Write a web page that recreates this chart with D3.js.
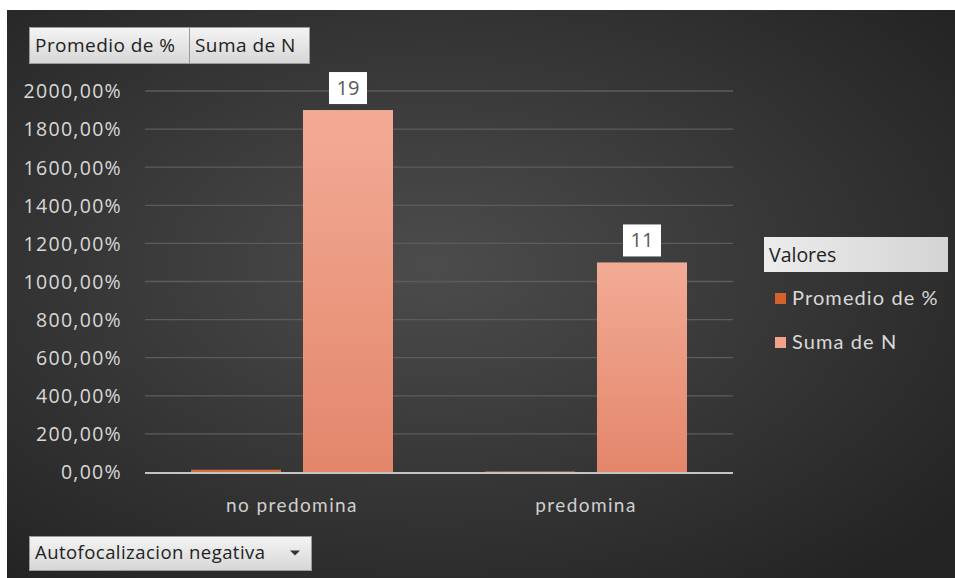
<!DOCTYPE html>
<html><head><meta charset="utf-8">
<script src="https://cdn.jsdelivr.net/npm/d3@7"></script>
<style>
html,body{margin:0;padding:0;background:#fff;}
svg{display:block;}
</style></head>
<body>
<svg id="chart" width="955" height="578"></svg>
<script>
const categories = ["no predomina", "predomina"];
const seriesNames = ["Promedio de %", "Suma de N"];
const promedio = [0.12, 0.03];
const sumaN = [19, 11];
const yTicks = [0, 2, 4, 6, 8, 10, 12, 14, 16, 18, 20];
const filterLabel = "Autofocalizacion negativa";
const legendTitle = "Valores";

const svg = d3.select("#chart");
const defs = svg.append("defs");

const bg = defs.append("radialGradient").attr("id","bg").attr("cx","45%").attr("cy","45%").attr("r","70%");
bg.append("stop").attr("offset","0%").attr("stop-color","#4c4c4c");
bg.append("stop").attr("offset","100%").attr("stop-color","#242424");

const btn = defs.append("linearGradient").attr("id","btn").attr("x1",0).attr("y1",0).attr("x2",0).attr("y2",1);
btn.append("stop").attr("offset","0%").attr("stop-color","#f4f4f4");
btn.append("stop").attr("offset","100%").attr("stop-color","#d6d6d6");

const barG = defs.append("linearGradient").attr("id","barS").attr("x1",0).attr("y1",0).attr("x2",0).attr("y2",1);
barG.append("stop").attr("offset","0%").attr("stop-color","#f3ab95");
barG.append("stop").attr("offset","100%").attr("stop-color","#e3866b");

const legG = defs.append("linearGradient").attr("id","leg").attr("x1",0).attr("y1",0).attr("x2",1).attr("y2",0);
legG.append("stop").attr("offset","0%").attr("stop-color","#ececec");
legG.append("stop").attr("offset","100%").attr("stop-color","#d4d4d4");

// background
svg.append("rect").attr("x",7).attr("y",10).attr("width",948).attr("height",568).attr("fill","url(#bg)");

const x0 = d3.scaleBand().domain(categories).range([145, 733]);
const x1 = d3.scaleBand().domain(seriesNames).range([46, 248]).paddingInner(0.196);
const y = d3.scaleLinear().domain([0, 20]).range([472, 91]);

const fmt = v => d3.format(".2f")(v * 100).replace(".", ",") + "%";

// gridlines
svg.append("g").selectAll("line").data(yTicks.filter(d => d > 0)).join("line")
  .attr("x1",145).attr("x2",733).attr("y1",d=>y(d)).attr("y2",d=>y(d))
  .attr("stroke","#5c5c5c").attr("stroke-width",1.3);

// y axis labels
const yAxis = d3.axisLeft(y).tickValues(yTicks).tickFormat(fmt).tickSize(0).tickPadding(0);
const ya = svg.append("g").attr("transform","translate(122,0)").call(yAxis);
ya.select(".domain").remove();
ya.selectAll("text").attr("fill","#d9d9d9").attr("font-family","'Open Sans', sans-serif")
  .attr("font-size","19.5px").attr("letter-spacing","1.3px").attr("dy","0.35em");

// bars
const data = categories.map((c,i)=>({cat:c, vals:[{s:seriesNames[0], v:promedio[i]},{s:seriesNames[1], v:sumaN[i]}]}));
const groups = svg.append("g").selectAll("g").data(data).join("g")
  .attr("transform", d => `translate(${x0(d.cat)},0)`);
groups.selectAll("rect").data(d=>d.vals).join("rect")
  .attr("x", d=>x1(d.s)).attr("width", x1.bandwidth())
  .attr("y", d=>y(d.v)).attr("height", d=>y(0)-y(d.v))
  .attr("fill", d=> d.s===seriesNames[0] ? "#d5703d" : "url(#barS)");

// baseline
svg.append("line").attr("x1",145).attr("x2",733).attr("y1",y(0)+1).attr("y2",y(0)+1)
  .attr("stroke","#c4c4c4").attr("stroke-width",2);

// data labels for Suma de N
groups.each(function(d){
  const g = d3.select(this);
  const v = d.vals[1];
  const cx = x1(v.s) + x1.bandwidth()/2;
  const top = y(v.v) - 38;
  g.append("rect").attr("x", cx-19).attr("y", top).attr("width",38).attr("height",32).attr("fill","#ffffff");
  g.append("text").attr("x", cx).attr("y", top+16).attr("dy","0.35em").attr("text-anchor","middle")
   .attr("font-family","'Open Sans', sans-serif").attr("font-size","20px").attr("fill","#595959").text(v.v);
});

// category labels
const xAxis = d3.axisBottom(x0).tickSize(0).tickPadding(0);
const xa = svg.append("g").attr("transform","translate(0,505)").call(xAxis);
xa.select(".domain").remove();
xa.selectAll("text").attr("fill","#cfcfcf").attr("font-family","Lato, sans-serif")
  .attr("font-size","19px").attr("letter-spacing","1.4px").attr("dy","0.35em");

// field buttons
function button(x, yy, w, h, label, arrow, fs){
  const g = svg.append("g");
  g.append("rect").attr("x",x+0.5).attr("y",yy+0.5).attr("width",w).attr("height",h)
   .attr("fill","url(#btn)").attr("stroke","#9a9a9a").attr("stroke-width",1);
  g.append("text").attr("x",x+6).attr("y",yy+h/2).attr("dy","0.35em")
   .attr("font-family","'Open Sans', sans-serif").attr("font-size",fs).attr("letter-spacing","0.45px")
   .attr("fill","#222").text(label);
  if(arrow){
    const ax = x+w-16, ay = yy+h/2;
    g.append("path").attr("d",`M${ax-5},${ay-2.5}L${ax+5},${ay-2.5}L${ax},${ay+2.5}Z`).attr("fill","#333");
  }
}
button(29, 27, 160, 36, seriesNames[0], false, "19px");
button(189, 27, 120, 36, seriesNames[1], false, "19px");
button(29, 536, 282, 34, filterLabel, true, "18.5px");

// legend
const lg = svg.append("g");
lg.append("rect").attr("x",764).attr("y",237).attr("width",184).attr("height",35).attr("fill","url(#leg)");
lg.append("text").attr("x",769).attr("y",255).attr("dy","0.35em").attr("font-family","'Open Sans', sans-serif")
  .attr("font-size","19.5px").attr("fill","#222").text(legendTitle);
const legColors = ["#d5612b", "#f2a28a"];
const li = lg.selectAll(".li").data(seriesNames).join("g").attr("class","li")
  .attr("transform",(d,i)=>`translate(775,${298 + i*44})`);
li.append("rect").attr("x",0).attr("y",-5).attr("width",11).attr("height",11).attr("fill",(d,i)=>legColors[i]);
li.append("text").attr("x",17).attr("y",0).attr("dy","0.35em").attr("font-family","Lato, sans-serif")
  .attr("font-size","20px").attr("letter-spacing","1.1px").attr("fill","#d9d9d9").text(d=>d);
</script>
</body></html>
